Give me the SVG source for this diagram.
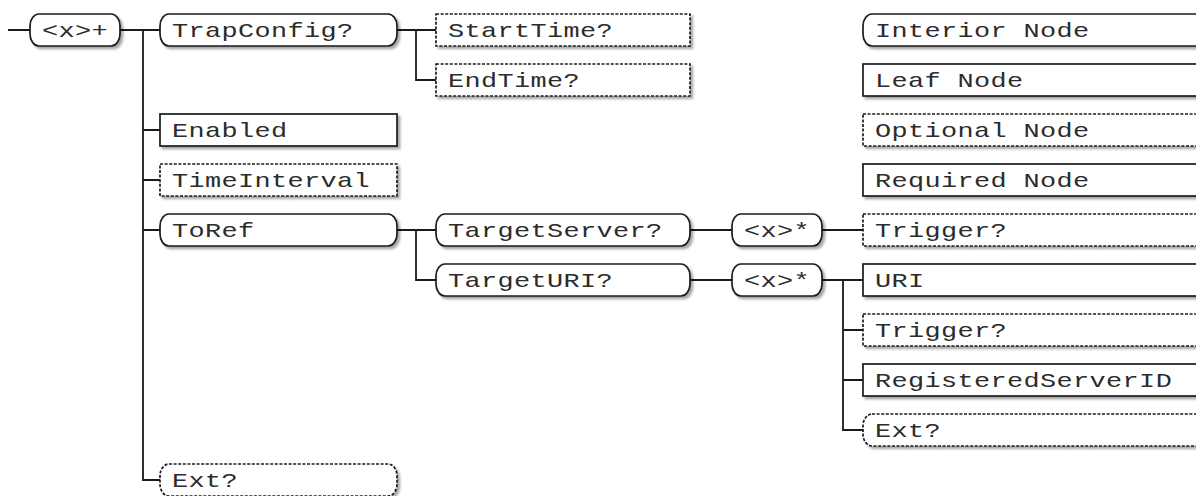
<svg xmlns="http://www.w3.org/2000/svg" width="1196" height="496" viewBox="0 0 1196 496">
<defs>
<filter id="sh" x="-5%" y="-20%" width="115%" height="160%">
<feDropShadow dx="2.5" dy="2.5" stdDeviation="1.2" flood-color="#000" flood-opacity="0.35"/>
</filter>
</defs>
<style>
rect{fill:#fff;stroke:#1a1a1a;stroke-width:1.7;filter:url(#sh)}
.r{rx:9px;ry:12px}
.d{stroke-dasharray:3 1.6}
text{font-family:"Liberation Mono","Courier New",monospace;font-size:21px;letter-spacing:0.3px;fill:#2c2c2c}
#connectors path{fill:none;stroke:#1a1a1a;stroke-width:1.8}
</style>
<rect width="1196" height="496" style="fill:#fff;stroke:none;filter:none"/>
<g id="connectors">
<path d="M8,30H30M120,30H160M143,30V480H160M143,130H160M143,180H160M143,230H160"/>
<path d="M397,30H436M416,30V80H436"/>
<path d="M397,230H436M416,230V280H436"/>
<path d="M690,230H732M690,280H732"/>
<path d="M822,230H863M822,280H863M843,280V430H863M843,330H863M843,380H863"/>
</g>
<g id="n-root"><rect class="r" x="30" y="14" width="90" height="32"/><text transform="matrix(1.28 0 0 1 42 37)">&lt;x&gt;+</text></g>
<g id="n-trapconfig"><rect class="r" x="160" y="14" width="237" height="32"/><text transform="matrix(1.28 0 0 1 172 37)">TrapConfig?</text></g>
<g id="n-starttime"><rect class="d" x="436" y="14" width="254" height="32"/><text transform="matrix(1.28 0 0 1 448 37)">StartTime?</text></g>
<g id="n-endtime"><rect class="d" x="436" y="64" width="254" height="32"/><text transform="matrix(1.28 0 0 1 448 87)">EndTime?</text></g>
<g id="n-enabled"><rect x="160" y="114" width="237" height="32"/><text transform="matrix(1.28 0 0 1 172 137)">Enabled</text></g>
<g id="n-timeinterval"><rect class="d" x="160" y="164" width="237" height="32"/><text transform="matrix(1.28 0 0 1 172 187)">TimeInterval</text></g>
<g id="n-toref"><rect class="r" x="160" y="214" width="237" height="32"/><text transform="matrix(1.28 0 0 1 172 237)">ToRef</text></g>
<g id="n-targetserver"><rect class="r" x="436" y="214" width="254" height="32"/><text transform="matrix(1.28 0 0 1 448 237)">TargetServer?</text></g>
<g id="n-targeturi"><rect class="r" x="436" y="264" width="254" height="32"/><text transform="matrix(1.28 0 0 1 448 287)">TargetURI?</text></g>
<g id="n-ts-x"><rect class="r" x="732" y="214" width="90" height="32"/><text transform="matrix(1.28 0 0 1 744 237)">&lt;x&gt;*</text></g>
<g id="n-tu-x"><rect class="r" x="732" y="264" width="90" height="32"/><text transform="matrix(1.28 0 0 1 744 287)">&lt;x&gt;*</text></g>
<g id="n-ts-trigger"><rect class="d" x="863" y="214" width="400" height="32"/><text transform="matrix(1.28 0 0 1 875 237)">Trigger?</text></g>
<g id="n-uri"><rect x="863" y="264" width="400" height="32"/><text transform="matrix(1.28 0 0 1 875 287)">URI</text></g>
<g id="n-tu-trigger"><rect class="d" x="863" y="314" width="400" height="32"/><text transform="matrix(1.28 0 0 1 875 337)">Trigger?</text></g>
<g id="n-regserverid"><rect x="863" y="364" width="400" height="32"/><text transform="matrix(1.28 0 0 1 875 387)">RegisteredServerID</text></g>
<g id="n-tu-ext"><rect class="r d" x="863" y="414" width="400" height="32"/><text transform="matrix(1.28 0 0 1 875 437)">Ext?</text></g>
<g id="n-ext"><rect class="r d" x="160" y="464" width="237" height="32"/><text transform="matrix(1.28 0 0 1 172 487)">Ext?</text></g>
<g id="legend-interior"><rect class="r" x="863" y="14" width="400" height="32"/><text transform="matrix(1.28 0 0 1 875 37)">Interior Node</text></g>
<g id="legend-leaf"><rect x="863" y="64" width="400" height="32"/><text transform="matrix(1.28 0 0 1 875 87)">Leaf Node</text></g>
<g id="legend-optional"><rect class="d" x="863" y="114" width="400" height="32"/><text transform="matrix(1.28 0 0 1 875 137)">Optional Node</text></g>
<g id="legend-required"><rect x="863" y="164" width="400" height="32"/><text transform="matrix(1.28 0 0 1 875 187)">Required Node</text></g>
</svg>
